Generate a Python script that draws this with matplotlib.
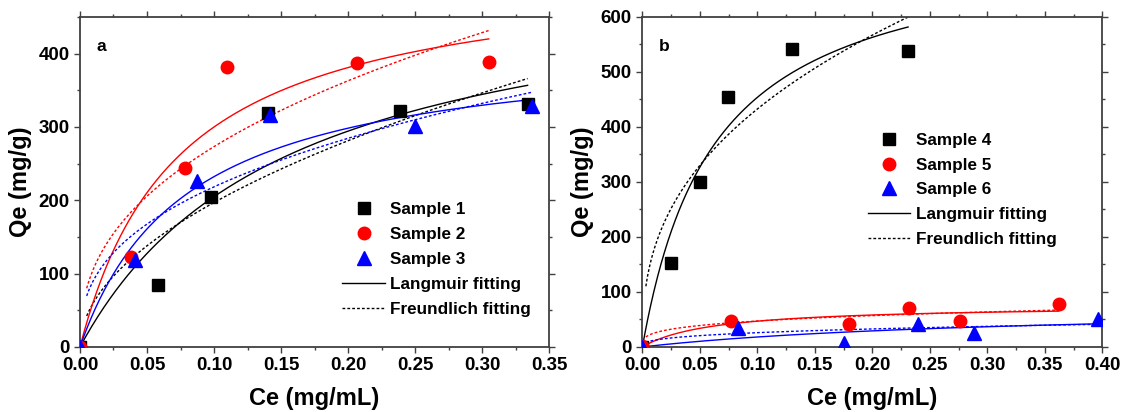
import numpy as np
import matplotlib
matplotlib.use("Agg")
import matplotlib.pyplot as plt
from matplotlib.lines import Line2D
from matplotlib.ticker import MultipleLocator, FormatStrFormatter

plt.rcParams['font.family'] = ['Liberation Sans', 'DejaVu Sans']
plt.rcParams['font.weight'] = 'bold'

# ---------------- Panel a data ----------------
s1_x = [0.0, 0.058, 0.098, 0.140, 0.239, 0.334]
s1_y = [0, 84, 205, 319, 322, 331]
s2_x = [0.0, 0.038, 0.078, 0.110, 0.207, 0.305]
s2_y = [0, 123, 244, 381, 387, 389]
s3_x = [0.0, 0.041, 0.087, 0.142, 0.250, 0.337]
s3_y = [0, 118, 226, 316, 301, 328]

# Fit parameters (Langmuir: qm, K ; Freundlich: Kf, 1/n)
lang_a = {"s1": (522, 6.46), "s2": (522, 13.5), "s3": (417, 12.56)}
freu_a = {"s1": (643, 0.514), "s2": (702, 0.41), "s3": (526, 0.382)}
fit_end_a = {"s1": 0.334, "s2": 0.305, "s3": 0.337}

# ---------------- Panel b data ----------------
s4_x = [0.0, 0.025, 0.050, 0.074, 0.130, 0.231]
s4_y = [0, 152, 300, 455, 542, 538]
s5_x = [0.0, 0.077, 0.180, 0.232, 0.276, 0.362]
s5_y = [2, 47, 41, 71, 48, 78]
s6_x = [0.0, 0.083, 0.175, 0.240, 0.288, 0.396]
s6_y = [0, 35, 8, 41, 25, 50]

lang_b = {"s4": (741, 15.8), "s5": (76.3, 15.9), "s6": (76.2, 3.1)}
freu_b = {"s4": (1062, 0.39), "s5": (88.5, 0.274), "s6": (56, 0.335)}
fit_end_b = {"s4": 0.231, "s5": 0.362, "s6": 0.396}

colors = {"s1": "black", "s2": "red", "s3": "blue",
          "s4": "black", "s5": "red", "s6": "blue"}
markers = {"s1": "s", "s2": "o", "s3": "^", "s4": "s", "s5": "o", "s6": "^"}
msizes = {"s": 8.5, "o": 9, "^": 10}


def langmuir(c, qm, k):
    return qm * k * c / (1 + k * c)


def freundlich(c, kf, inv_n):
    return kf * c ** inv_n


fig = plt.figure(figsize=(11.33, 4.12), dpi=100)
axA = fig.add_axes([0.0706, 0.158, 0.414, 0.801])
axB = fig.add_axes([0.567, 0.158, 0.406, 0.801])

spine_col = '#404040'


def style_axes(ax, xmax, ymax, xlabel_step, ytick_step):
    ax.set_xlim(0, xmax)
    ax.set_ylim(0, ymax)
    ax.xaxis.set_major_locator(MultipleLocator(xlabel_step))
    ax.xaxis.set_minor_locator(MultipleLocator(xlabel_step / 2))
    ax.yaxis.set_major_locator(MultipleLocator(ytick_step))
    ax.yaxis.set_minor_locator(MultipleLocator(ytick_step / 2))
    ax.xaxis.set_major_formatter(FormatStrFormatter('%.2f'))
    ax.tick_params(which='both', direction='out', top=True, right=True,
                   color=spine_col, width=1.0, labelsize=13.5)
    ax.tick_params(which='major', length=4)
    ax.tick_params(which='minor', length=2.5)
    for lab in ax.get_xticklabels() + ax.get_yticklabels():
        lab.set_fontweight('bold')
    for sp in ax.spines.values():
        sp.set_color(spine_col)
        sp.set_linewidth(1.3)
    ax.set_xlabel('Ce (mg/mL)', fontsize=17, fontweight='bold', labelpad=9)
    ax.set_ylabel('Qe (mg/g)', fontsize=17, fontweight='bold', labelpad=5)


def draw_panel(ax, series, lang, freu, fit_end, f_start):
    for key, (xs, ys) in series.items():
        c = colors[key]
        end = fit_end[key]
        cl = np.linspace(0, end, 300)
        ax.plot(cl, langmuir(cl, *lang[key]), color=c, lw=1.0, zorder=2)
        cf = np.linspace(f_start, end, 300)
        ax.plot(cf, freundlich(cf, *freu[key]), color=c, lw=1.0,
                linestyle=(0, (2, 1.5)), zorder=2)
    for key, (xs, ys) in series.items():
        ax.plot(xs, ys, linestyle='none', marker=markers[key],
                color=colors[key], ms=msizes[markers[key]], zorder=3)
    handles = [Line2D([], [], linestyle='none', marker=markers[k],
                      color=colors[k], ms=msizes[markers[k]])
               for k in series]
    handles += [Line2D([], [], color='black', lw=1.0),
                Line2D([], [], color='black', lw=1.0, linestyle=(0, (2, 1.5)))]
    return handles


legend_kw = dict(loc='upper left', frameon=False,
                 prop={'weight': 'bold', 'size': 12.3}, handlelength=2.5,
                 labelspacing=0.58, handletextpad=0.3, borderaxespad=0)

hA = draw_panel(axA, {"s1": (s1_x, s1_y), "s2": (s2_x, s2_y), "s3": (s3_x, s3_y)},
                lang_a, freu_a, fit_end_a, 0.005)
style_axes(axA, 0.35, 450, 0.05, 100)
axA.legend(hA, ['Sample 1', 'Sample 2', 'Sample 3', 'Langmuir fitting',
                'Freundlich fitting'], bbox_to_anchor=(0.545, 0.46), **legend_kw)
axA.text(0.035, 0.91, 'a', transform=axA.transAxes, fontsize=12.5,
         fontweight='bold', va='center', ha='left')

hB = draw_panel(axB, {"s4": (s4_x, s4_y), "s5": (s5_x, s5_y), "s6": (s6_x, s6_y)},
                lang_b, freu_b, fit_end_b, 0.003)
style_axes(axB, 0.40, 600, 0.05, 100)
axB.legend(hB, ['Sample 4', 'Sample 5', 'Sample 6', 'Langmuir fitting',
                'Freundlich fitting'], bbox_to_anchor=(0.475, 0.67), **legend_kw)
axB.text(0.035, 0.91, 'b', transform=axB.transAxes, fontsize=12.5,
         fontweight='bold', va='center', ha='left')

fig.savefig('out.png', dpi=100)
